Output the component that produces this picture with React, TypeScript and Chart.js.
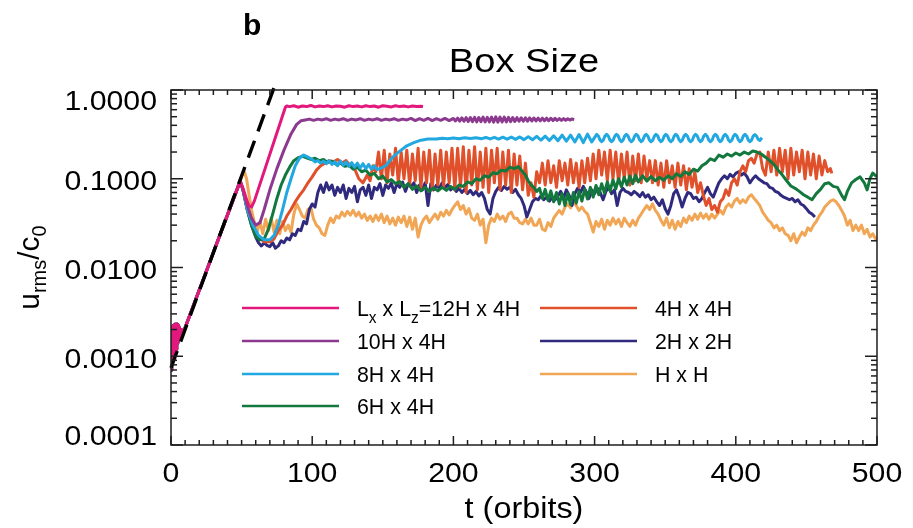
import { useEffect, useRef } from "react";
import { Chart, registerables } from "chart.js";

Chart.register(...registerables);

type Pt = [number, number];

// Shared linear-growth phase (t in orbits, u_rms/c0)
const earlyGrowth: Pt[] = [
  [0, 0.0007], [0.3, 0.0019], [0.6, 0.0008], [0.9, 0.0021], [1.2, 0.0009], [1.5, 0.0022],
  [1.8, 0.00095], [2.1, 0.0022], [2.4, 0.001], [2.7, 0.0023], [3, 0.0011], [3.3, 0.0023],
  [3.6, 0.0012], [3.9, 0.0023], [4.2, 0.0013], [4.5, 0.0023], [4.8, 0.0014], [5.1, 0.0022],
  [5.4, 0.0015], [5.7, 0.0021], [6, 0.0016], [7, 0.002], [9, 0.0019], [49, 0.094],
];

// Exponential growth fit
const growthFit: Pt[] = [[0, 0.00074], [75, 1.3]];

const box12x4: Pt[] = [
  ...earlyGrowth,
  [51, 0.078], [53, 0.062], [55, 0.05], [57, 0.048], [59, 0.056],
  [81, 0.64], [82, 0.66], [84, 0.65], [87, 0.665], [90, 0.64], [93, 0.66], [96, 0.65], [99, 0.67],
  [102, 0.645], [105, 0.66], [108, 0.65], [111, 0.665], [114, 0.645], [117, 0.66], [120, 0.655],
  [123, 0.64], [126, 0.665], [129, 0.65], [132, 0.66], [135, 0.645], [138, 0.665], [141, 0.65],
  [144, 0.66], [147, 0.64], [150, 0.665], [153, 0.655], [156, 0.645], [159, 0.665], [162, 0.65],
  [165, 0.66], [168, 0.645], [171, 0.66], [174, 0.65], [177, 0.655], [178.5, 0.65],
];

const box10x4: Pt[] = [
  ...earlyGrowth,
  [51, 0.075], [54, 0.05], [57, 0.036], [60, 0.03], [63, 0.032], [66, 0.045], [70, 0.075],
  [75, 0.13], [80, 0.21], [85, 0.32], [89, 0.41], [92, 0.45], [95, 0.46],
  [98, 0.47], [101, 0.455], [104, 0.47], [107, 0.46], [110, 0.475], [113, 0.455], [116, 0.47],
  [119, 0.46], [122, 0.475], [125, 0.455], [128, 0.47], [131, 0.46], [134, 0.475], [137, 0.455],
  [140, 0.47], [143, 0.46], [146, 0.475], [149, 0.455], [152, 0.47], [155, 0.46], [158, 0.475],
  [161, 0.455], [164, 0.47], [167, 0.46], [170, 0.478], [173, 0.452], [176, 0.475], [179, 0.455],
  [182, 0.478], [185, 0.452], [188, 0.475], [191, 0.455], [194, 0.478], [197, 0.452], [200, 0.478],
  [201.5, 0.448], [203, 0.482], [204.5, 0.446], [206, 0.485], [207.5, 0.444], [209, 0.488],
  [210.5, 0.442], [212, 0.49], [213.5, 0.44], [215, 0.492], [216.5, 0.438], [218, 0.49],
  [219.5, 0.44], [221, 0.495], [222.5, 0.436], [224, 0.493], [225.5, 0.437], [227, 0.496],
  [228.5, 0.435], [230, 0.498], [231.5, 0.434], [233, 0.496], [234.5, 0.436], [236, 0.494],
  [237.5, 0.438], [239, 0.492], [240.5, 0.44], [242, 0.49], [243.5, 0.442], [245, 0.488],
  [246.5, 0.444], [248, 0.487], [249.5, 0.445], [251, 0.486], [252.5, 0.446], [254, 0.485],
  [255.5, 0.447], [257, 0.484], [258.5, 0.448], [260, 0.483], [261.5, 0.449], [263, 0.482],
  [264.5, 0.45], [266, 0.481], [267.5, 0.451], [269, 0.48], [270.5, 0.452], [272, 0.479],
  [273.5, 0.453], [275, 0.477], [276.5, 0.455], [278, 0.476], [279.5, 0.456], [281, 0.474],
  [282.5, 0.458], [284, 0.472], [285.5, 0.462],
];

const box8x4: Pt[] = [
  ...earlyGrowth,
  [51, 0.075], [54, 0.045], [58, 0.03], [62, 0.023], [66, 0.0205], [70, 0.0205], [73, 0.023],
  [76, 0.03], [79, 0.045], [82, 0.07], [85, 0.1], [88, 0.14], [91, 0.17], [94, 0.185], [97, 0.175],
  [100, 0.165], [102, 0.155], [104, 0.16], [106, 0.15], [108, 0.158], [110, 0.148], [112, 0.16],
  [114, 0.145], [116, 0.155], [118, 0.14], [120, 0.158], [122, 0.142], [124, 0.155], [126, 0.138],
  [128, 0.152], [130, 0.135], [132, 0.15], [134, 0.132], [136, 0.148], [138, 0.13], [140, 0.145],
  [142, 0.128], [144, 0.14], [146, 0.127], [148, 0.13], [152, 0.14], [157, 0.175], [162, 0.205],
  [167, 0.235], [172, 0.255], [177, 0.272], [182, 0.28], [188, 0.28], [192, 0.286], [196, 0.282],
  [200, 0.288], [204, 0.283], [208, 0.29], [212, 0.284], [216, 0.29], [220, 0.283], [223, 0.292],
  [226, 0.281], [229, 0.293], [232, 0.28], [235, 0.294], [238, 0.279], [241, 0.295], [244, 0.278],
  [247, 0.296], [250, 0.276], [253, 0.298], [256, 0.275], [259, 0.3], [262, 0.272], [265, 0.302],
  [268, 0.27], [271, 0.305], [274, 0.268], [277, 0.31], [280, 0.265], [283, 0.31], [286, 0.26],
  [289, 0.315], [292, 0.255], [295, 0.318], [298, 0.26],
  [301.5, 0.316], [302.7, 0.303], [303.8, 0.274], [305, 0.262], [306.2, 0.273], [307.3, 0.302],
  [308.5, 0.316], [309.7, 0.303], [310.8, 0.274], [312, 0.262], [313.2, 0.273], [314.3, 0.302],
  [315.5, 0.317], [316.7, 0.304], [317.8, 0.275], [319, 0.262], [320.2, 0.273], [321.3, 0.302],
  [322.5, 0.316], [323.7, 0.303], [324.8, 0.274], [326, 0.261], [327.2, 0.272], [328.3, 0.301],
  [329.5, 0.317], [330.7, 0.304], [331.8, 0.275], [333, 0.262], [334.2, 0.273], [335.3, 0.302],
  [336.5, 0.316], [337.7, 0.303], [338.8, 0.274], [340, 0.261], [341.2, 0.272], [342.3, 0.301],
  [343.5, 0.317], [344.7, 0.304], [345.8, 0.275], [347, 0.262], [348.2, 0.273], [349.3, 0.302],
  [350.5, 0.316], [351.7, 0.303], [352.8, 0.274], [354, 0.261], [355.2, 0.272], [356.3, 0.301],
  [357.5, 0.317], [358.7, 0.304], [359.8, 0.275], [361, 0.262], [362.2, 0.273], [363.3, 0.302],
  [364.5, 0.316], [365.7, 0.303], [366.8, 0.274], [368, 0.261], [369.2, 0.272], [370.3, 0.301],
  [371.5, 0.317], [372.7, 0.304], [373.8, 0.275], [375, 0.262], [376.2, 0.273], [377.3, 0.302],
  [378.5, 0.316], [379.7, 0.303], [380.8, 0.274], [382, 0.261], [383.2, 0.272], [384.3, 0.301],
  [385.5, 0.317], [386.7, 0.304], [387.8, 0.275], [389, 0.262], [390.2, 0.273], [391.3, 0.302],
  [392.5, 0.316], [393.7, 0.303], [394.8, 0.274], [396, 0.261], [397.2, 0.272], [398.3, 0.301],
  [399.5, 0.317], [400.7, 0.304], [401.8, 0.275], [403, 0.262], [404.2, 0.273], [405.3, 0.302],
  [406.5, 0.316], [407.7, 0.303], [408.8, 0.274], [410, 0.262], [411.2, 0.273], [412.3, 0.302],
  [413.5, 0.315], [414.7, 0.302], [415.8, 0.278], [417, 0.27], [418.5, 0.29],
];

const box6x4: Pt[] = [
  ...earlyGrowth,
  [51, 0.075], [54, 0.045], [57, 0.03], [60, 0.0225], [63, 0.0205], [66, 0.021], [69, 0.027],
  [72, 0.04], [75, 0.06], [78, 0.085], [81, 0.11], [84, 0.135], [87, 0.16], [90, 0.172], [93, 0.18],
  [96, 0.172], [99, 0.165], [102, 0.17], [105, 0.16], [108, 0.165], [111, 0.152], [114, 0.158],
  [117, 0.145], [120, 0.15], [123, 0.138], [126, 0.142], [129, 0.128], [132, 0.135], [135, 0.12],
  [138, 0.125], [141, 0.11], [144, 0.115], [147, 0.1], [150, 0.107], [153, 0.092], [156, 0.098],
  [159, 0.088], [162, 0.093], [165, 0.08], [168, 0.088], [171, 0.076], [174, 0.083], [177, 0.073],
  [180, 0.08], [183, 0.072], [186, 0.079], [189, 0.073], [192, 0.08], [195, 0.074], [198, 0.082],
  [201, 0.076], [204, 0.085], [207, 0.082], [210, 0.092], [213, 0.088], [216, 0.1], [219, 0.096],
  [222, 0.108], [225, 0.104], [228, 0.117], [231, 0.114], [234, 0.125], [237, 0.122], [240, 0.135],
  [243, 0.13], [246, 0.137], [249, 0.12], [251, 0.11], [253, 0.095], [255, 0.085], [257, 0.08],
  [259, 0.072], [261, 0.078], [263, 0.06], [265, 0.076], [267, 0.057], [269, 0.073], [271, 0.055],
  [273, 0.07], [275, 0.052], [277, 0.068], [279, 0.05], [281, 0.068], [283, 0.051], [285, 0.07],
  [287, 0.053], [289, 0.072], [291, 0.056], [293, 0.076], [295, 0.059], [297, 0.08], [299, 0.062],
  [301, 0.084], [303, 0.066], [305, 0.088], [307, 0.069], [309, 0.092], [311, 0.073], [313, 0.097],
  [315, 0.077], [317, 0.1], [319, 0.081], [321, 0.104], [323, 0.085], [325, 0.107], [327, 0.088],
  [329, 0.11], [331, 0.092], [334, 0.108], [337, 0.094], [340, 0.106], [343, 0.095], [346, 0.104],
  [349, 0.096], [352, 0.108], [355, 0.1], [358, 0.114], [361, 0.106], [364, 0.12], [367, 0.112],
  [370, 0.128], [373, 0.122], [376, 0.14], [379, 0.15], [382, 0.168], [385, 0.16], [388, 0.185],
  [391, 0.175], [394, 0.19], [397, 0.18], [400, 0.195], [403, 0.185], [406, 0.2], [409, 0.19],
  [412, 0.205], [415, 0.2], [418, 0.19], [421, 0.175], [424, 0.16], [427, 0.145], [430, 0.125],
  [433, 0.11], [436, 0.095], [439, 0.083], [442, 0.078], [445, 0.072], [448, 0.066], [451, 0.062],
  [454, 0.058], [457, 0.068], [460, 0.076], [463, 0.088], [466, 0.09], [469, 0.082], [472, 0.08],
  [475, 0.065], [477, 0.058], [479, 0.072], [482, 0.09], [485, 0.098], [488, 0.105], [491, 0.09],
  [493, 0.075], [495, 0.1], [497, 0.116], [500, 0.105],
];

const box4x4: Pt[] = [
  ...earlyGrowth,
  [51, 0.075], [54, 0.045], [58, 0.029], [62, 0.022], [66, 0.0195], [70, 0.0195], [73, 0.021],
  [76, 0.026], [79, 0.03], [82, 0.038], [85, 0.045], [88, 0.055], [91, 0.065], [94, 0.075],
  [97, 0.09], [100, 0.105], [103, 0.125], [106, 0.14], [109, 0.15], [112, 0.16], [115, 0.155],
  [118, 0.165], [121, 0.15], [124, 0.16], [127, 0.14], [130, 0.13], [133, 0.1], [136, 0.09],
  [139, 0.11], [141, 0.095], [143, 0.14], [145, 0.12], [147, 0.2], [149, 0.1], [151, 0.21],
  [153, 0.09], [155, 0.19], [157, 0.11], [159, 0.22], [161, 0.09], [163, 0.2], [165, 0.1],
  [167, 0.21], [169, 0.085], [171, 0.19], [173, 0.095], [175, 0.22], [177, 0.08], [179, 0.2],
  [181, 0.09], [183, 0.21], [185, 0.075], [187, 0.19], [189, 0.085], [191, 0.21], [193, 0.08],
  [195, 0.2], [197, 0.09], [199, 0.22], [201, 0.075], [203, 0.22], [205, 0.08], [207, 0.23],
  [209, 0.07], [211, 0.21], [213, 0.085], [215, 0.23], [217, 0.075], [219, 0.2], [221, 0.08],
  [223, 0.22], [225, 0.07], [227, 0.21], [229, 0.09], [231, 0.22], [233, 0.075], [235, 0.2],
  [237, 0.085], [239, 0.21], [241, 0.07], [243, 0.19], [245, 0.085], [247, 0.18], [249, 0.075],
  [251, 0.15], [253, 0.065], [255, 0.09], [257, 0.062], [259, 0.12], [261, 0.09], [263, 0.15],
  [265, 0.085], [267, 0.16], [269, 0.09], [271, 0.14], [273, 0.08], [275, 0.16], [277, 0.095],
  [279, 0.15], [281, 0.085], [283, 0.165], [285, 0.09], [287, 0.15], [289, 0.08], [291, 0.16],
  [293, 0.09], [295, 0.17], [297, 0.095], [299, 0.19], [301, 0.1], [303, 0.21], [305, 0.11],
  [307, 0.2], [309, 0.095], [311, 0.21], [313, 0.1], [315, 0.2], [317, 0.09], [319, 0.19],
  [321, 0.1], [323, 0.2], [325, 0.085], [327, 0.18], [329, 0.095], [331, 0.19], [333, 0.09],
  [335, 0.18], [337, 0.1], [339, 0.16], [341, 0.09], [343, 0.16], [345, 0.085], [347, 0.15],
  [349, 0.08], [351, 0.16], [353, 0.09], [355, 0.14], [357, 0.08], [359, 0.15], [361, 0.085],
  [363, 0.14], [365, 0.075], [367, 0.13], [369, 0.08], [371, 0.12], [373, 0.07], [375, 0.09],
  [377, 0.065], [379, 0.05], [381, 0.06], [383, 0.045], [385, 0.05], [387, 0.042], [389, 0.055],
  [391, 0.06], [393, 0.075], [395, 0.065], [397, 0.09], [399, 0.1], [401, 0.085], [403, 0.12],
  [405, 0.14], [407, 0.12], [409, 0.16], [411, 0.17], [413, 0.15], [415, 0.19], [417, 0.2],
  [419, 0.13], [421, 0.11], [423, 0.2], [425, 0.12], [427, 0.21], [429, 0.11], [431, 0.22],
  [433, 0.12], [435, 0.21], [437, 0.1], [439, 0.22], [441, 0.11], [443, 0.2], [445, 0.12],
  [447, 0.21], [449, 0.1], [451, 0.2], [453, 0.11], [455, 0.19], [457, 0.1], [459, 0.18],
  [461, 0.11], [463, 0.16], [465, 0.12], [467, 0.13], [468, 0.115],
];

const box2x2: Pt[] = [
  ...earlyGrowth,
  [51, 0.075], [54, 0.045], [57, 0.03], [60, 0.022], [62, 0.019], [64, 0.0175], [66, 0.019],
  [68, 0.0178], [70, 0.0172], [72, 0.019], [74, 0.0165], [76, 0.0175], [78, 0.02], [80, 0.019],
  [82, 0.0215], [84, 0.0205], [86, 0.024], [88, 0.023], [90, 0.027], [92, 0.026], [94, 0.033],
  [96, 0.031], [98, 0.045], [100, 0.052], [102, 0.048], [104, 0.07], [106, 0.085], [108, 0.07],
  [110, 0.09], [112, 0.075], [114, 0.085], [116, 0.065], [118, 0.08], [120, 0.07], [122, 0.085],
  [124, 0.06], [126, 0.078], [128, 0.07], [130, 0.082], [132, 0.055], [134, 0.075], [136, 0.08],
  [138, 0.065], [140, 0.085], [142, 0.06], [144, 0.08], [146, 0.075], [148, 0.088], [150, 0.065],
  [152, 0.085], [154, 0.078], [156, 0.09], [158, 0.07], [160, 0.088], [162, 0.08], [164, 0.092],
  [166, 0.072], [168, 0.088], [170, 0.082], [172, 0.09], [174, 0.07], [176, 0.085], [178, 0.075],
  [180, 0.09], [182, 0.05], [184, 0.088], [186, 0.075], [188, 0.085], [190, 0.078], [192, 0.09],
  [194, 0.08], [196, 0.086], [198, 0.075], [200, 0.08], [202, 0.072], [204, 0.078], [206, 0.07],
  [208, 0.076], [210, 0.068], [212, 0.074], [214, 0.066], [216, 0.072], [218, 0.064], [220, 0.07],
  [222, 0.06], [224, 0.045], [226, 0.04], [228, 0.06], [230, 0.072], [232, 0.08], [234, 0.074],
  [236, 0.082], [238, 0.076], [240, 0.08], [242, 0.07], [244, 0.076], [246, 0.066], [248, 0.06],
  [250, 0.05], [252, 0.037], [254, 0.045], [256, 0.055], [258, 0.06], [260, 0.058], [262, 0.064],
  [264, 0.058], [266, 0.062], [268, 0.056], [270, 0.062], [272, 0.058], [274, 0.064], [276, 0.072],
  [278, 0.06], [280, 0.075], [282, 0.065], [284, 0.05], [286, 0.068], [288, 0.078], [290, 0.07],
  [292, 0.082], [294, 0.072], [296, 0.06], [298, 0.075], [300, 0.068], [302, 0.078], [304, 0.07],
  [306, 0.058], [308, 0.072], [310, 0.08], [312, 0.068], [314, 0.075], [316, 0.05], [318, 0.07],
  [320, 0.078], [322, 0.072], [324, 0.07], [326, 0.066], [328, 0.072], [330, 0.068], [332, 0.063],
  [334, 0.07], [336, 0.062], [338, 0.066], [340, 0.058], [342, 0.062], [344, 0.055], [346, 0.05],
  [348, 0.058], [350, 0.046], [352, 0.04], [354, 0.05], [356, 0.068], [358, 0.075], [360, 0.062],
  [362, 0.048], [364, 0.06], [366, 0.07], [368, 0.068], [370, 0.06], [372, 0.062], [374, 0.055],
  [376, 0.06], [378, 0.07], [380, 0.08], [382, 0.068], [384, 0.062], [386, 0.075], [388, 0.09],
  [390, 0.1], [392, 0.108], [394, 0.1], [396, 0.112], [398, 0.105], [400, 0.115], [402, 0.12],
  [404, 0.11], [406, 0.116], [408, 0.105], [410, 0.09], [412, 0.1], [414, 0.108], [416, 0.1],
  [418, 0.095], [420, 0.09], [422, 0.088], [424, 0.08], [426, 0.078], [428, 0.072], [430, 0.07],
  [432, 0.065], [434, 0.062], [436, 0.06], [438, 0.058], [440, 0.06], [442, 0.055], [444, 0.058],
  [446, 0.052], [448, 0.05], [450, 0.046], [452, 0.042], [454, 0.04], [456, 0.037],
];

const box1x1: Pt[] = [
  ...earlyGrowth,
  [50.5, 0.11], [52, 0.12], [53.5, 0.1], [55, 0.07], [57, 0.045], [59, 0.032], [61, 0.025],
  [63, 0.033], [65, 0.024], [67, 0.035], [69, 0.026], [71, 0.036], [73, 0.025], [75, 0.034],
  [77, 0.024], [79, 0.033], [81, 0.026], [83, 0.03], [85, 0.025], [87, 0.04], [89, 0.052],
  [91, 0.045], [93, 0.038], [95, 0.036], [97, 0.045], [99, 0.048], [101, 0.035], [103, 0.03],
  [105, 0.028], [107, 0.024], [109, 0.023], [111, 0.03], [113, 0.036], [115, 0.032], [117, 0.038],
  [119, 0.036], [121, 0.042], [123, 0.038], [125, 0.043], [127, 0.039], [129, 0.044], [131, 0.038],
  [133, 0.042], [135, 0.036], [137, 0.04], [139, 0.034], [141, 0.038], [143, 0.033], [145, 0.039],
  [147, 0.034], [149, 0.04], [151, 0.032], [153, 0.038], [155, 0.031], [157, 0.036], [159, 0.03],
  [161, 0.037], [163, 0.032], [165, 0.038], [167, 0.029], [169, 0.037], [171, 0.027], [173, 0.036],
  [175, 0.022], [177, 0.03], [179, 0.035], [181, 0.038], [183, 0.032], [185, 0.036], [187, 0.04],
  [189, 0.035], [191, 0.042], [193, 0.038], [195, 0.044], [197, 0.039], [199, 0.045], [201, 0.05],
  [203, 0.055], [205, 0.045], [207, 0.05], [209, 0.04], [211, 0.046], [213, 0.036], [215, 0.034],
  [217, 0.04], [219, 0.03], [221, 0.035], [223, 0.019], [225, 0.03], [227, 0.036], [229, 0.033],
  [231, 0.04], [233, 0.035], [235, 0.038], [237, 0.033], [239, 0.04], [241, 0.042], [243, 0.036],
  [245, 0.036], [247, 0.032], [249, 0.031], [251, 0.035], [253, 0.031], [255, 0.036], [257, 0.03],
  [259, 0.03], [261, 0.035], [263, 0.027], [265, 0.026], [267, 0.032], [269, 0.029], [271, 0.036],
  [273, 0.04], [275, 0.044], [277, 0.04], [279, 0.048], [281, 0.052], [283, 0.047], [285, 0.055],
  [287, 0.05], [289, 0.044], [291, 0.048], [293, 0.043], [295, 0.04], [297, 0.032], [299, 0.025],
  [301, 0.033], [303, 0.029], [305, 0.035], [307, 0.027], [309, 0.034], [311, 0.03], [313, 0.036],
  [315, 0.031], [317, 0.035], [319, 0.029], [321, 0.036], [323, 0.032], [325, 0.029], [327, 0.034],
  [329, 0.03], [331, 0.036], [333, 0.04], [335, 0.045], [337, 0.05], [339, 0.045], [341, 0.052],
  [343, 0.044], [345, 0.04], [347, 0.034], [349, 0.03], [351, 0.036], [353, 0.028], [355, 0.034],
  [357, 0.027], [359, 0.033], [361, 0.029], [363, 0.036], [365, 0.032], [367, 0.038], [369, 0.034],
  [371, 0.04], [373, 0.035], [375, 0.041], [377, 0.036], [379, 0.04], [381, 0.035], [383, 0.04],
  [385, 0.036], [387, 0.04], [389, 0.044], [391, 0.04], [393, 0.048], [395, 0.052], [397, 0.048],
  [399, 0.056], [401, 0.06], [403, 0.053], [405, 0.058], [407, 0.054], [409, 0.062], [411, 0.066],
  [413, 0.06], [415, 0.055], [417, 0.05], [419, 0.042], [421, 0.038], [423, 0.034], [425, 0.032],
  [427, 0.028], [429, 0.03], [431, 0.026], [433, 0.028], [435, 0.024], [437, 0.023], [439, 0.02],
  [441, 0.024], [443, 0.019], [445, 0.022], [447, 0.025], [449, 0.023], [451, 0.028], [453, 0.026],
  [455, 0.03], [457, 0.033], [459, 0.038], [461, 0.042], [463, 0.048], [465, 0.052], [467, 0.056],
  [469, 0.058], [471, 0.055], [473, 0.05], [475, 0.044], [477, 0.038], [479, 0.03], [481, 0.034],
  [483, 0.026], [485, 0.03], [487, 0.026], [489, 0.03], [491, 0.024], [493, 0.027], [495, 0.022],
  [497, 0.024], [499, 0.021], [500, 0.022],
];

const seriesLabels = [
  "L_x x L_z=12H x 4H",
  "10H x 4H",
  "8H x 4H",
  "6H x 4H",
  "4H x 4H",
  "2H x 2H",
  "H x H",
];
const seriesData = [box12x4, box10x4, box8x4, box6x4, box4x4, box2x2, box1x1];
const seriesColors = ["#E2187D", "#8C3A90", "#22A8E0", "#13783D", "#E0502A", "#302A7E", "#F1A655"];

const xMin = 0;
const xMax = 500;
const xMajorStep = 100;
const xMinorStep = 10;
const yDecades = [0.0001, 0.001, 0.01, 0.1, 1];

const chartTitle = "Box Size";
const panelLetter = "b";
const xTitle = "t (orbits)";
const yTitle = "u_{rms}/c_0";

const FONT = "'Liberation Sans', Arial, Helvetica, sans-serif";

// Split "a_{bc}d_e" into plain and subscript runs
function parseRuns(s: string): { text: string; sub: boolean }[] {
  const runs: { text: string; sub: boolean }[] = [];
  let buf = "";
  for (let i = 0; i < s.length; i++) {
    if (s[i] === "_") {
      if (buf) runs.push({ text: buf, sub: false });
      buf = "";
      if (s[i + 1] === "{") {
        const end = s.indexOf("}", i);
        runs.push({ text: s.slice(i + 2, end), sub: true });
        i = end;
      } else {
        runs.push({ text: s[i + 1], sub: true });
        i += 1;
      }
    } else buf += s[i];
  }
  if (buf) runs.push({ text: buf, sub: false });
  return runs;
}

// Draw rich text with subscripts; baseline at y=0 of the current transform
function drawRich(
  ctx: CanvasRenderingContext2D,
  s: string,
  size: number,
  subSize: number,
  subDrop: number,
  align: "left" | "center"
) {
  const runs = parseRuns(s);
  const widths = runs.map((r) => {
    ctx.font = `${r.sub ? subSize : size}px ${FONT}`;
    return ctx.measureText(r.text).width;
  });
  const total = widths.reduce((a, b) => a + b, 0);
  let x = align === "center" ? -total / 2 : 0;
  ctx.textAlign = "left";
  ctx.textBaseline = "alphabetic";
  runs.forEach((r, i) => {
    ctx.font = `${r.sub ? subSize : size}px ${FONT}`;
    ctx.fillText(r.text, x, r.sub ? subDrop : 0);
    x += widths[i];
  });
}

function drawText(
  ctx: CanvasRenderingContext2D,
  text: string,
  x: number,
  y: number,
  font: string,
  align: CanvasTextAlign,
  sx = 1
) {
  ctx.save();
  ctx.translate(x, y);
  ctx.scale(sx, 1);
  ctx.font = font;
  ctx.textAlign = align;
  ctx.textBaseline = "alphabetic";
  ctx.fillText(text, 0, 0);
  ctx.restore();
}

const framePlugin = {
  id: "frameAndText",
  afterDraw(chart: any) {
    const { ctx, chartArea: a, scales } = chart;
    const xs = scales.x;
    const ys = scales.y;
    ctx.save();
    ctx.strokeStyle = "#1e1e1e";
    ctx.lineWidth = 1.5;
    ctx.strokeRect(a.left, a.top, a.right - a.left, a.bottom - a.top);

    const seg = (x1: number, y1: number, x2: number, y2: number) => {
      ctx.beginPath();
      ctx.moveTo(x1, y1);
      ctx.lineTo(x2, y2);
      ctx.stroke();
    };

    // x ticks, inward on bottom and top
    for (let t = xMin; t <= xMax; t += xMinorStep) {
      const px = xs.getPixelForValue(t);
      const len = t % xMajorStep === 0 ? 9 : 5;
      seg(px, a.bottom, px, a.bottom - len);
      seg(px, a.top, px, a.top + len);
    }
    // y ticks, inward on left and right
    yDecades.forEach((d, i) => {
      const py = ys.getPixelForValue(d);
      seg(a.left, py, a.left + 12, py);
      seg(a.right, py, a.right - 12, py);
      if (i < yDecades.length - 1) {
        for (let m = 2; m <= 9; m++) {
          const pm = ys.getPixelForValue(m * d);
          seg(a.left, pm, a.left + 6, pm);
          seg(a.right, pm, a.right - 6, pm);
        }
      }
    });

    ctx.fillStyle = "#000";
    const tickFont = `27px ${FONT}`;
    // y tick labels
    yDecades.forEach((d) => {
      const py = ys.getPixelForValue(d);
      const cy = Math.min(Math.max(py + 2, a.top + 10), a.bottom - 10);
      drawText(ctx, d.toFixed(4), a.left - 14, cy + 9.7, tickFont, "right", 1.12);
    });
    // x tick labels
    for (let t = xMin; t <= xMax; t += xMajorStep) {
      const px = xs.getPixelForValue(t);
      drawText(ctx, String(t), px, 482, tickFont, "center", 1.12);
    }

    // titles
    drawText(ctx, xTitle, (a.left + a.right) / 2, 518, `30px ${FONT}`, "center", 1.08);
    drawText(ctx, chartTitle, (a.left + a.right) / 2, 72, `34px ${FONT}`, "center", 1.12);
    drawText(ctx, panelLetter, 243, 35, `bold 30px ${FONT}`, "left");

    ctx.save();
    ctx.translate(39, (a.top + a.bottom) / 2);
    ctx.rotate(-Math.PI / 2);
    drawRich(ctx, yTitle, 30, 20, 7, "center");
    ctx.restore();

    // legend
    const colX = [242, 540];
    const rowY = [308, 341, 374, 406];
    seriesLabels.forEach((label, i) => {
      const col = i < 4 ? 0 : 1;
      const row = i < 4 ? i : i - 4;
      const x0 = colX[col];
      const y0 = rowY[row];
      ctx.strokeStyle = seriesColors[i];
      ctx.lineWidth = 2.5;
      seg(x0, y0, x0 + 97, y0);
      ctx.save();
      ctx.translate(x0 + 115, y0 + 8);
      ctx.scale(0.97, 1);
      ctx.fillStyle = "#000";
      drawRich(ctx, label, 22, 16, 7, "left");
      ctx.restore();
    });
    ctx.restore();
  },
};

export default function App() {
  const canvasRef = useRef<HTMLCanvasElement | null>(null);

  useEffect(() => {
    if (!canvasRef.current) return;
    const datasets: any[] = [
      {
        label: "fit",
        data: growthFit.map(([x, y]) => ({ x, y })),
        borderColor: "#000",
        borderWidth: 3.4,
        borderDash: [18, 10],
        pointRadius: 0,
        clip: false,
        order: 0,
      },
      ...seriesData.map((pts, i) => ({
        label: seriesLabels[i],
        data: pts.map(([x, y]) => ({ x, y })),
        borderColor: seriesColors[i],
        borderWidth: 3,
        borderJoinStyle: "round",
        pointRadius: 0,
        tension: 0,
        order: i + 1,
      })),
    ];
    const chart = new Chart(canvasRef.current, {
      type: "line",
      data: { datasets },
      options: {
        animation: false,
        responsive: true,
        maintainAspectRatio: false,
        events: [],
        layout: { padding: { top: 90, right: 36, left: 0, bottom: 0 } },
        plugins: { legend: { display: false }, tooltip: { enabled: false } },
        scales: {
          x: {
            type: "linear",
            min: xMin,
            max: xMax,
            grid: { display: false, drawTicks: false },
            border: { display: false },
            ticks: { display: false },
            afterFit: (s: any) => {
              s.height = 83;
            },
          },
          y: {
            type: "logarithmic",
            min: yDecades[0],
            max: yDecades[yDecades.length - 1],
            grid: { display: false, drawTicks: false },
            border: { display: false },
            ticks: { display: false },
            afterFit: (s: any) => {
              s.width = 171;
            },
          },
        },
      },
      plugins: [framePlugin],
    });
    return () => chart.destroy();
  }, []);

  return (
    <div style={{ position: "absolute", left: 0, top: 0, width: 913, height: 528, background: "#fff" }}>
      <canvas ref={canvasRef} />
    </div>
  );
}
